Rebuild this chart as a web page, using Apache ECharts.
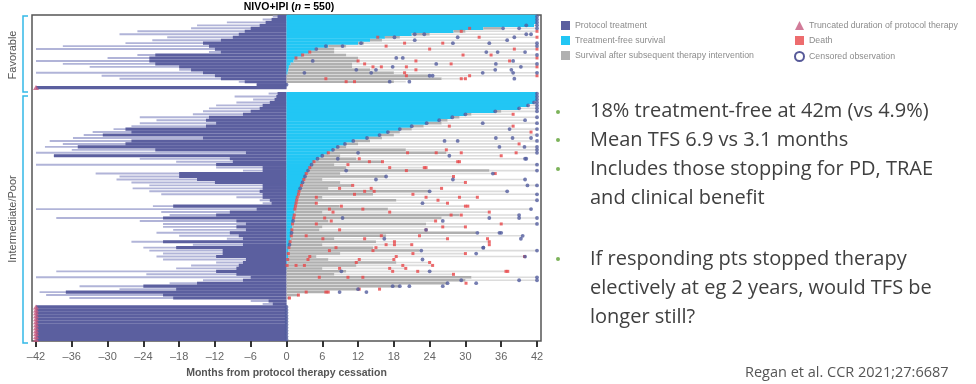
<!DOCTYPE html>
<html>
<head>
<meta charset="utf-8">
<title>NIVO+IPI swimmer plot</title>
<style>
  html, body { margin: 0; padding: 0; background: #fff; }
  #main { width: 976px; height: 384px; }
</style>
<script src="https://cdn.jsdelivr.net/npm/echarts@6/dist/echarts.min.js"></script>
</head>
<body>
<div id="main"></div>
<script>
// Each row is a small group of patients, top to bottom.
// protSolid: protocol months shared by the whole group, protLong: longest in group
// tfs: treatment-free survival, subseq: end of survival after subsequent therapy, follow: end of follow-up
// end: c = censored, d = death, - = no marker

// Favorable risk
const favProtSolid = [1.5, 2.5, 3.5, 4.5, 6, 7, 8, 9, 11, 14, 13, 12, 11, 22, 23, 23, 22, 18, 16, 14, 12, 11, 7, 5, 42];
const favProtLong = [2.3, 4, 10, 15, 16, 25, 28, 20, 22.5, 27, 37.5, 42, 13, 25, 30, 42, 37.5, 33, 18, 42, 31, 28, 8, 5, 42];
const favTfs = [42, 42, 42, 41.5, 33, 28, 21, 16.5, 14, 12, 7, 4.8, 3.8, 2.7, 1.8, 1.2, 0.7, 0.4, 0.3, 0.2, 0, 0, 0, 0, 0];
const favSubseq = [42, 42, 42, 41.5, 36, 30, 24, 19, 16, 13, 10, 8, 8, 10, 12, 12, 11, 11, 14, 18, 24, 26, 18, 0, 0];
const favFollow = [42, 42, 42, 42, 42, 42, 41, 42, 37, 42, 42, 42, 40, 42, 42, 38, 42, 42, 35, 42, 42, 30, 20, 0, 0];
const favEnd = 'cccccdcdcccdccdccdccdd-c';

// Intermediate/Poor risk
const interProtSolid = [1.5, 1.7, 2, 2.8, 4, 4.5, 6, 7.3, 13, 13.5, 11.8, 13.5, 27, 26, 30.8, 14, 26, 27, 35, 22,
  6.8, 39, 9.5, 9, 11.8, 4, 4, 18, 18, 15, 12, 4, 4, 4.5, 4, 4, 2.8, 2.5, 19, 5,
  9.5, 11.8, 20.7, 8.4, 6.8, 8.4, 6.8, 9.5, 8, 7.3, 20.7, 7.3, 18.5, 10.7, 10.7, 11.8, 6.8, 7.3, 8, 8.4,
  11.8, 8.4, 6, 7.3, 15, 24, 18.5, 37, 20.7, 19, 3, 2.3,
  42, 42, 42, 42, 42, 42, 42, 42, 42, 42, 42, 42];
const interProtLong = [3, 8.7, 5.6, 8.4, 11.8, 13, 14, 15.7, 24.6, 21.8, 24.6, 26, 29, 32.5, 34, 35.8, 39.7, 37.5, 40.5, 36,
  42, 39, 24.6, 18.5, 42, 11.8, 7.3, 32, 28, 28.5, 26, 23, 25.8, 23, 21, 8.4, 4.5, 4, 22.4, 42,
  21, 19.6, 38.6, 24.6, 20.7, 20.7, 19, 21.8, 18, 10, 26, 15.7, 24, 23, 20.7, 21.8, 20.7, 11.8, 16, 18.5,
  38.6, 23.5, 42, 14, 19.6, 34.7, 28, 41.4, 40.3, 36.4, 6, 4,
  42, 42, 42, 42, 42, 42, 42, 42, 42, 42, 42, 42];
const interTfs = [42, 42, 42, 41.5, 40.5, 39, 35, 30, 27.8, 25.6, 23.5, 21, 19, 17, 15.6, 13.5, 11.2, 9.8, 8.6, 7.8,
  7, 6, 5.2, 4.6, 4.2, 3.9, 3.6, 3.3, 3.1, 2.9, 2.7, 2.5, 2.3, 2.1, 2, 1.8, 1.7, 1.6, 1.5, 1.4,
  1.35, 1.3, 1.2, 1.1, 1, 0.95, 0.9, 0.85, 0.8, 0.7, 0.6, 0.5, 0.4, 0.35, 0.3, 0.25, 0.2, 0.15, 0.1, 0.05,
  0, 0, 0, 0, 0, 0, 0, 0, 0, 0, 0, 0,
  0, 0, 0, 0, 0, 0, 0, 0, 0, 0, 0, 0];
const interSubseq = [42, 42, 42, 41.5, 40.5, 39, 36, 31, 29, 27, 26, 23, 21, 19, 18, 16, 14, 12, 10, 20,
  26.8, 9, 11.7, 16, 8, 10, 34, 9, 16.7, 6, 9, 11, 7, 24, 14.5, 6, 18.4, 5, 8.9, 17,
  6, 29, 26, 7, 23.4, 6, 5.5, 31.8, 16.7, 8, 15, 6, 14.5, 22.3, 9, 5, 7, 18.4, 11.7, 6,
  10, 8, 31, 30, 27, 19, 12, 7, 2, 0.5, 0, 0,
  0, 0, 0, 0, 0, 0, 0, 0, 0, 0, 0, 0];
const interFollow = [42, 42, 42, 42, 42, 42, 42, 38, 42, 40, 42, 38, 42, 41, 42, 41, 42, 39, 42, 42,
  42, 36, 40, 29, 42, 23.4, 42, 35, 28, 40, 30, 42, 26, 37, 42, 32, 42, 27, 30, 41,
  34, 39, 42, 25, 42, 30, 23.4, 35.7, 39.6, 27, 34, 21, 33, 42, 30, 40, 18, 24, 24.5, 20,
  36.8, 28, 42, 42, 27, 19, 12, 7, 2, 0.5, 0, 0,
  0, 0, 0, 0, 0, 0, 0, 0, 0, 0, 0, 0];
const interEnd = 'cccccccdcc' + 'cdcdcccdcc' + 'cdcdcdcddc' + 'dcdccdcddc' + 'dccdcddccd' + 'ddccdcdddd' + 'ddcccccddd' + '--' + 'cccccccccccc';

// other events inside the groups: [month, row]
const extraDeaths = [
  [29.3, 5], [30.7, 4], [15.3, 7], [16.7, 10], [19.8, 9], [26.2, 9], [32.3, 7], [38.2, 11], [24, 11], [29.6, 13],
  [34.3, 13], [21.7, 15], [12, 15], [13.1, 16], [14.5, 17], [15.9, 17], [20.1, 17], [21.7, 18], [27.6, 16], [37.4, 15],
  [19.8, 19], [20.1, 20], [6.6, 21], [10, 22], [11.4, 22], [29.3, 21], [30.7, 20], [3.9, 12], [2.7, 13], [1.6, 14],
  [20.3, 46], [25.1, 46], [26.8, 45], [29.3, 46], [38.5, 46], [12.2, 48], [13.9, 49], [16.1, 49], [28.7, 49], [10.3, 50],
  [17.3, 51], [20.1, 52], [23.1, 51], [11.1, 57], [8.9, 58], [13.1, 59], [14.2, 58], [14.7, 59], [5, 61], [11.4, 60],
  [21.2, 60], [23.4, 61], [25.4, 62], [29, 61], [5, 63], [7.2, 65], [7.8, 66], [9.2, 64], [12.8, 65], [17.3, 66],
  [30.4, 64], [27.6, 67], [29.3, 67], [6.4, 68], [5, 70], [7.5, 69], [8.9, 72], [26.2, 71], [36, 70], [3.3, 74],
  [6.1, 75], [13.1, 75], [15.9, 74], [18.1, 76], [22.3, 74], [33.7, 75], [34, 77], [8.3, 78], [7.2, 79], [15, 78],
  [14.5, 79], [16.7, 77], [18.1, 77], [3.9, 81], [3.6, 82], [12.2, 82], [18.4, 81], [21.2, 80], [39.9, 81], [1.6, 84],
  [3, 84], [8.9, 85], [11.7, 83], [17.3, 85], [19.5, 84], [22, 86], [17.8, 86], [37.1, 86], [5.5, 88], [10.3, 88],
  [12.8, 88], [3.3, 93], [6.6, 93], [12.2, 92], [15.6, 92], [30.1, 90], [27.3, 37],
  [7, 46], [4.6, 49], [3.9, 51], [3.3, 53], [2.9, 55], [2.5, 57], [2.1, 59], [2, 60], [1.8, 61], [1.7, 62],
  [1.6, 63], [1.5, 64], [1.4, 65], [1.3, 67], [1.2, 68], [1, 70], [0.9, 72], [0.8, 74], [0.6, 76], [0.4, 78],
  [0.3, 80], [0.2, 82], [0.1, 84]
];
const extraCensored = [
  [36.3, 4], [39, 4], [40.2, 3], [27.9, 9], [23.1, 6], [21.5, 6], [28.7, 7], [38.2, 7], [34, 9], [40.2, 6],
  [21.5, 8], [18.1, 7], [18.4, 14], [19.5, 14], [25.1, 16], [4.4, 15], [11.7, 18], [14.2, 19], [15, 18], [17.8, 17],
  [24, 20], [24.5, 20], [17.3, 22], [20.6, 22], [32.9, 19], [35.1, 16], [37.7, 18], [38, 19], [39.3, 17], [38.2, 21],
  [3, 19], [33.5, 12], [35.4, 12], [9.4, 10], [12.5, 9], [6.6, 10], [5, 11],
  [12, 46], [27.3, 47], [8.6, 48], [40.2, 48], [10, 52], [16.7, 54], [15, 55], [27.9, 55], [34.6, 53], [40.4, 57],
  [24, 59], [22.8, 63], [9.4, 68], [26.2, 69], [34, 68], [39, 68], [23.4, 72], [32, 73], [36, 73], [39.3, 75],
  [16.4, 75], [33, 78], [22.6, 79], [31.8, 80], [22.8, 82], [9.2, 86], [24, 86], [29.3, 89], [31.8, 90], [39, 89],
  [26.2, 91], [20.6, 91], [17.8, 91], [13.4, 93], [8.9, 93], [32.9, 36], [37.4, 38], [26.5, 42], [28.7, 42], [35.1, 41],
  [37.9, 41], [35.7, 44], [39.9, 44],
  [41.5, 29], [40.5, 30], [39, 31], [35, 32], [30, 33], [27.8, 34], [25.6, 35], [23.5, 36], [21, 37], [19, 38],
  [17, 39], [15.6, 40], [13.5, 41], [11.2, 42], [9.8, 43], [8.6, 44], [7.8, 45], [6, 47], [5.2, 48], [4.2, 50],
  [3.6, 52], [3.1, 54], [2.7, 56], [2.3, 58], [1.1, 69], [0.85, 73], [0.5, 77]
];

const monthTicks = [-42, -36, -30, -24, -18, -12, -6, 0, 6, 12, 18, 24, 30, 36, 42];

// colours
const C_PROT = '#5b5f9f';
const C_PROT_LIGHT = '#b1b4d8';
const C_TFS = '#22c6f4';
const C_SUB = '#b0b0b0';
const C_SUB_LIGHT = '#dcdcdc';
const C_DEATH = '#e8474a';
const C_CENS = '#525c9e';
const C_TRUNC = '#c65a80';

// assemble rows: favorable, one blank row, intermediate/poor
const rows = [];
favTfs.forEach((v, i) => rows.push([i, favProtSolid[i], favProtLong[i], v, favSubseq[i], favFollow[i], favEnd[i]]));
const interStart = favTfs.length + 1;
interTfs.forEach((v, i) => rows.push([interStart + i, interProtSolid[i], interProtLong[i], v, interSubseq[i], interFollow[i], interEnd[i]]));
const nRows = interStart + interTfs.length;
const categories = [];
for (let i = 0; i < nRows; i++) categories.push('row' + i);

const protData = rows.map(r => [r[0], -r[2], -r[1]]);
const tfsData = rows.filter(r => r[3] > 0).map(r => [r[0], 0, r[3]]);
const subData = rows.filter(r => r[5] > r[3]).map(r => [r[0], r[3], r[4], r[5]]);

const deaths = extraDeaths.slice();
const censored = extraCensored.slice();
const truncated = [];
rows.forEach(r => {
    if (r[6] === 'd') deaths.push([r[5], r[0]]);
    if (r[6] === 'c') censored.push([r[5], r[0]]);
    if (r[1] >= 42) truncated.push([-42, r[0]]);
});

function band(api, x0, x1, frac) {
    const p0 = api.coord([x0, api.value(0)]);
    const p1 = api.coord([x1, api.value(0)]);
    const h = api.size([0, 1])[1] * frac;
    return { x: p0[0], y: p0[1] - h / 2, width: Math.max(0, p1[0] - p0[0]), height: h };
}

const chart = echarts.init(document.getElementById('main'), null, { renderer: 'canvas' });

const legendText = { color: '#8c8c8c', fontSize: 8.8, fontFamily: 'Liberation Sans' };

const option = {
    animation: false,
    grid: {
        left: 32, right: 435, top: 15, bottom: 39,
        show: true, borderColor: '#555', borderWidth: 1.5, backgroundColor: 'transparent'
    },
    xAxis: {
        type: 'value',
        min: -42.67, max: 42.67,
        splitLine: { show: false },
        axisLine: { show: false },
        axisTick: { show: true, customValues: monthTicks, length: 6, lineStyle: { color: '#333', width: 2 } },
        axisLabel: {
            customValues: monthTicks, margin: 10, color: '#666', fontSize: 11, fontFamily: 'Liberation Sans',
            formatter: v => String(Math.round(v)).replace('-', '\u2013')
        },
        name: 'Months from protocol therapy cessation',
        nameLocation: 'middle', nameGap: 27,
        nameTextStyle: { color: '#555', fontSize: 10.5, fontWeight: 'bold', fontFamily: 'Liberation Sans' }
    },
    yAxis: {
        type: 'category', data: categories, inverse: true,
        axisLine: { show: false }, axisTick: { show: false }, axisLabel: { show: false }, splitLine: { show: false }
    },
    legend: [
        {
            left: 561, top: 21, orient: 'vertical', padding: 0, itemGap: 6, itemWidth: 9, itemHeight: 9,
            textStyle: legendText, selectedMode: false,
            data: [
                { name: 'Protocol treatment', icon: 'rect' },
                { name: 'Treatment-free survival', icon: 'rect' },
                { name: 'Survival after subsequent therapy intervention', icon: 'rect' }
            ]
        },
        {
            left: 794, top: 21, orient: 'vertical', padding: 0, itemGap: 6, itemWidth: 9, itemHeight: 9,
            textStyle: legendText, selectedMode: false,
            data: [
                { name: 'Truncated duration of protocol therapy', icon: 'triangle' },
                { name: 'Death', icon: 'rect' },
                { name: 'Censored observation', icon: 'circle', itemStyle: { color: '#fff', borderColor: '#2d3180', borderWidth: 2 } }
            ]
        }
    ],
    series: [
        {
            name: 'Protocol treatment', type: 'custom', itemStyle: { color: C_PROT },
            encode: { x: [1, 2], y: 0 }, data: protData,
            renderItem: (params, api) => ({
                type: 'group',
                children: [
                    { type: 'rect', shape: band(api, api.value(1), 0, 0.65), style: { fill: C_PROT_LIGHT } },
                    { type: 'rect', shape: band(api, api.value(2), 0, 1.05), style: { fill: C_PROT } }
                ]
            })
        },
        {
            name: 'Treatment-free survival', type: 'custom', itemStyle: { color: C_TFS },
            encode: { x: [1, 2], y: 0 }, data: tfsData,
            renderItem: (params, api) => ({
                type: 'rect', shape: band(api, 0, api.value(2), 1.1), style: { fill: C_TFS }
            })
        },
        {
            name: 'Survival after subsequent therapy intervention', type: 'custom', itemStyle: { color: C_SUB },
            encode: { x: [1, 3], y: 0 }, data: subData,
            renderItem: (params, api) => ({
                type: 'group',
                children: [
                    { type: 'rect', shape: band(api, api.value(2), api.value(3), 0.55), style: { fill: C_SUB_LIGHT } },
                    { type: 'rect', shape: band(api, api.value(1), api.value(2), 0.85), style: { fill: C_SUB } }
                ]
            })
        },
        {
            name: 'Truncated duration of protocol therapy', type: 'scatter', z: 5,
            symbol: 'triangle', symbolSize: [6, 5], itemStyle: { color: C_TRUNC }, data: truncated
        },
        {
            name: 'Death', type: 'scatter', z: 6,
            symbol: 'rect', symbolSize: 3, itemStyle: { color: C_DEATH }, data: deaths
        },
        {
            name: 'Censored observation', type: 'scatter', z: 7,
            symbol: 'circle', symbolSize: 3.8, itemStyle: { color: C_CENS }, data: censored
        }
    ],
    graphic: [
        {
            type: 'text', x: 289, y: 7,
            style: {
                text: '{a|NIVO+IPI (}{i|n}{a| = 550)}', align: 'center', verticalAlign: 'middle',
                rich: {
                    a: { fontSize: 10.5, fontWeight: 'bold', color: '#444', fontFamily: 'Liberation Sans' },
                    i: { fontSize: 10.5, fontWeight: 'bold', fontStyle: 'italic', color: '#444', fontFamily: 'Liberation Sans' }
                }
            }
        },
        { type: 'polyline', shape: { points: [[28, 16], [23, 16], [23, 92], [28, 92]] }, style: { stroke: '#33b9e8', lineWidth: 1.5, fill: null } },
        { type: 'polyline', shape: { points: [[28, 96], [23, 96], [23, 343], [28, 343]] }, style: { stroke: '#33b9e8', lineWidth: 1.5, fill: null } },
        {
            type: 'text', x: 13, y: 55, rotation: Math.PI / 2,
            style: { text: 'Favorable', align: 'center', verticalAlign: 'middle', fontSize: 11, fill: '#555', fontFamily: 'Liberation Sans' }
        },
        {
            type: 'text', x: 13, y: 219, rotation: Math.PI / 2,
            style: { text: 'Intermediate/Poor', align: 'center', verticalAlign: 'middle', fontSize: 11, fill: '#555', fontFamily: 'Liberation Sans' }
        },
        // slide bullets
        { type: 'circle', shape: { cx: 558, cy: 112, r: 2 }, style: { fill: '#7cb35a' } },
        { type: 'circle', shape: { cx: 558, cy: 140, r: 2 }, style: { fill: '#7cb35a' } },
        { type: 'circle', shape: { cx: 558, cy: 169, r: 2 }, style: { fill: '#7cb35a' } },
        { type: 'circle', shape: { cx: 558, cy: 259, r: 2 }, style: { fill: '#7cb35a' } },
        {
            type: 'text', x: 590, y: 97,
            style: {
                text: '18% treatment-free at 42m (vs 4.9%)\nMean TFS 6.9 vs 3.1 months\nIncludes those stopping for PD, TRAE\nand clinical benefit',
                fontSize: 20, lineHeight: 29, fill: '#404040', fontFamily: 'Open Sans'
            }
        },
        {
            type: 'text', x: 590, y: 245,
            style: {
                text: 'If responding pts stopped therapy\nelectively at eg 2 years, would TFS be\nlonger still?',
                fontSize: 20, lineHeight: 29, fill: '#404040', fontFamily: 'Open Sans'
            }
        },
        {
            type: 'text', x: 745, y: 373,
            style: { text: 'Regan et al. CCR 2021;27:6687', fontSize: 14.5, fill: '#555', fontFamily: 'Open Sans', verticalAlign: 'middle' }
        }
    ]
};

chart.setOption(option);
window.addEventListener('resize', () => chart.resize());
</script>
</body>
</html>
